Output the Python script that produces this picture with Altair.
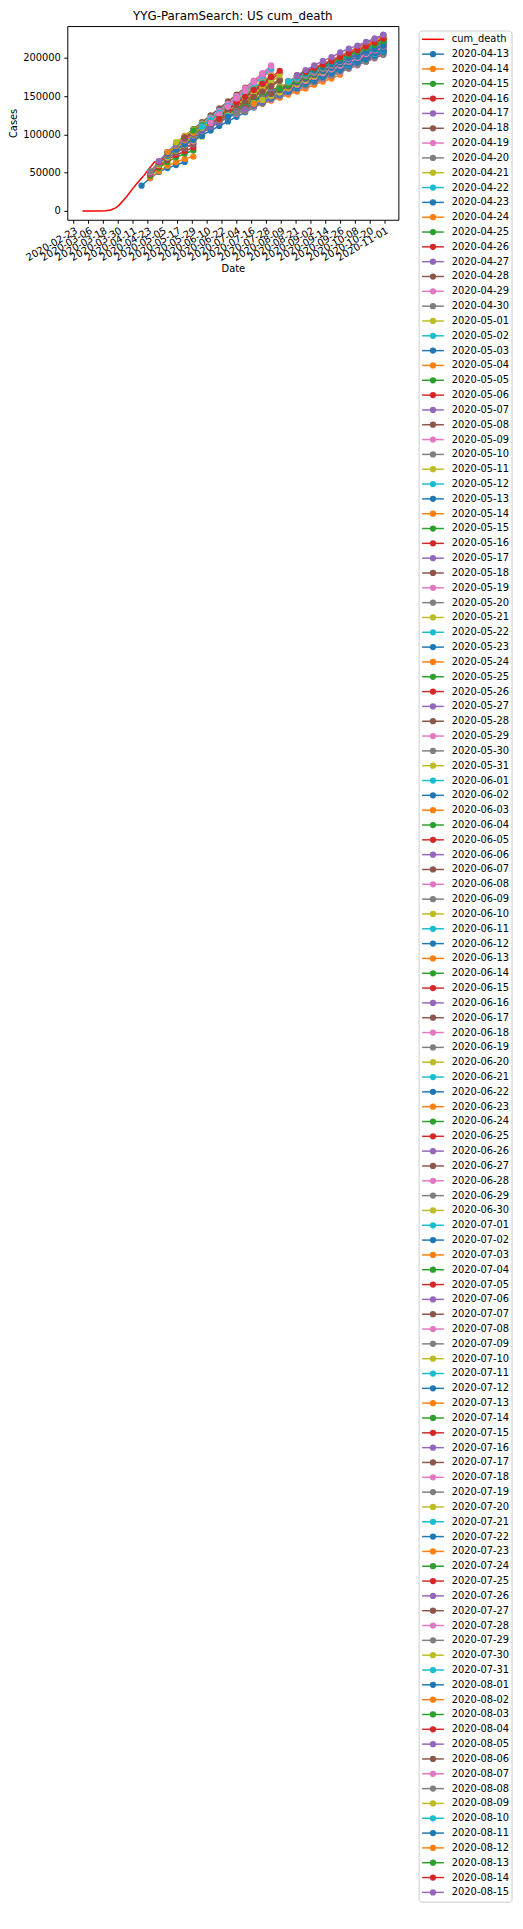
import altair as alt
import pandas as pd

title_text = "YYG-ParamSearch: US cum_death"
x_title = "Date"
y_title = "Cases"

x_tick_labels = ["2020-02-23", "2020-03-06", "2020-03-18", "2020-03-30", "2020-04-11",
                 "2020-04-23", "2020-05-05", "2020-05-17", "2020-05-29", "2020-06-10",
                 "2020-06-22", "2020-07-04", "2020-07-16", "2020-07-28", "2020-08-09",
                 "2020-08-21", "2020-09-02", "2020-09-14", "2020-09-26", "2020-10-08",
                 "2020-10-20", "2020-11-01"]
y_tick_values = [0, 50000, 100000, 150000, 200000]

# observed cumulative deaths (red line)
actual_dates = ["2020-03-01", "2020-03-05", "2020-03-10", "2020-03-15", "2020-03-20",
                "2020-03-24", "2020-03-28", "2020-03-31", "2020-04-03", "2020-04-06",
                "2020-04-10", "2020-04-13", "2020-04-17", "2020-04-20", "2020-04-23",
                "2020-04-26", "2020-04-29"]
actual_values = [0, 0, 10, 50, 300, 1300, 3900, 8000, 13300, 19000, 27600, 33500,
                 41000, 46500, 53000, 59000, 65000]

# forecast runs (legend labels)
forecast_labels = [
    "2020-04-13", "2020-04-14", "2020-04-15", "2020-04-16", "2020-04-17", "2020-04-18",
    "2020-04-19", "2020-04-20", "2020-04-21", "2020-04-22", "2020-04-23", "2020-04-24",
    "2020-04-25", "2020-04-26", "2020-04-27", "2020-04-28", "2020-04-29", "2020-04-30",
    "2020-05-01", "2020-05-02", "2020-05-03", "2020-05-04", "2020-05-05", "2020-05-06",
    "2020-05-07", "2020-05-08", "2020-05-09", "2020-05-10", "2020-05-11", "2020-05-12",
    "2020-05-13", "2020-05-14", "2020-05-15", "2020-05-16", "2020-05-17", "2020-05-18",
    "2020-05-19", "2020-05-20", "2020-05-21", "2020-05-22", "2020-05-23", "2020-05-24",
    "2020-05-25", "2020-05-26", "2020-05-27", "2020-05-28", "2020-05-29", "2020-05-30",
    "2020-05-31", "2020-06-01", "2020-06-02", "2020-06-03", "2020-06-04", "2020-06-05",
    "2020-06-06", "2020-06-07", "2020-06-08", "2020-06-09", "2020-06-10", "2020-06-11",
    "2020-06-12", "2020-06-13", "2020-06-14", "2020-06-15", "2020-06-16", "2020-06-17",
    "2020-06-18", "2020-06-19", "2020-06-20", "2020-06-21", "2020-06-22", "2020-06-23",
    "2020-06-24", "2020-06-25", "2020-06-26", "2020-06-27", "2020-06-28", "2020-06-29",
    "2020-06-30", "2020-07-01", "2020-07-02", "2020-07-03", "2020-07-04", "2020-07-05",
    "2020-07-06", "2020-07-07", "2020-07-08", "2020-07-09", "2020-07-10", "2020-07-11",
    "2020-07-12", "2020-07-13", "2020-07-14", "2020-07-15", "2020-07-16", "2020-07-17",
    "2020-07-18", "2020-07-19", "2020-07-20", "2020-07-21", "2020-07-22", "2020-07-23",
    "2020-07-24", "2020-07-25", "2020-07-26", "2020-07-27", "2020-07-28", "2020-07-29",
    "2020-07-30", "2020-07-31", "2020-08-01", "2020-08-02", "2020-08-03", "2020-08-04",
    "2020-08-05", "2020-08-06", "2020-08-07", "2020-08-08", "2020-08-09", "2020-08-10",
    "2020-08-11", "2020-08-12", "2020-08-13", "2020-08-14", "2020-08-15",
]

# first projected (weekly, Saturday) date of each run
forecast_first = (["2020-04-18"] + ["2020-04-25"] * 7 + ["2020-05-02"] * 7 + ["2020-05-09"] * 7
                  + ["2020-05-16"] * 7 + ["2020-05-23"] * 7 + ["2020-05-30"] * 7
                  + ["2020-06-06"] * 7 + ["2020-06-13"] * 7 + ["2020-06-20"] * 7
                  + ["2020-06-27"] * 7 + ["2020-07-04"] * 7 + ["2020-07-11"] * 7
                  + ["2020-07-18"] * 7 + ["2020-07-25"] * 7 + ["2020-08-01"] * 7
                  + ["2020-08-08"] * 7 + ["2020-08-15"] * 7 + ["2020-08-22"] * 5)

# weekly projected cumulative deaths, thousands
forecast_values_k = [
    [33, 43, 51, 56, 60, 64],
    [43, 52, 59, 64, 68, 71],
    [46, 56, 64, 70, 75, 79],
    [48, 58, 67, 73, 78, 83],
    [49, 60, 69, 76, 82, 87],
    [50, 61, 70, 77, 83, 88],
    [51, 62, 72, 80, 86, 91],
    [52, 64, 74, 82, 89, 95],
    [60, 70, 79, 86, 92, 97],
    [62, 73, 82, 90, 96, 101],
    [62, 72, 80, 87, 93, 98],
    [63, 74, 84, 92, 99, 104],
    [64, 76, 86, 95, 102, 108],
    [64, 75, 85, 93, 100, 106],
    [65, 77, 88, 97, 105, 112],
    [74, 81, 88, 95, 102, 109, 116, 123, 130, 137, 144, 151, 158],
    [75, 84, 93, 102, 111, 120, 129, 138, 147, 156, 165, 174, 183],
    [73, 81, 89, 97, 105, 113, 121, 129, 137, 145, 153, 161, 169],
    [76, 83, 90, 97, 104, 111, 118, 125, 132, 139, 146, 153, 160],
    [77, 86, 95, 104, 113, 122, 131, 140, 149, 158, 167, 176, 185],
    [75, 81, 87, 93, 99, 105, 111, 117, 123, 129, 135, 141, 147],
    [77, 85, 93, 101, 109, 117, 125, 133, 141, 149, 157, 165, 173],
    [87, 94, 101, 108, 115, 122, 129, 136, 143, 150, 157, 164],
    [88, 96, 104, 112, 120, 128, 136, 144, 152, 160, 168, 176],
    [86, 92, 98, 104, 110, 116, 122, 128, 134, 140, 146, 152],
    [89, 98, 107, 116, 125, 134, 143, 152, 161, 170, 179, 188],
    [88, 95, 103, 110, 118, 125, 133, 140, 148, 155, 163, 170],
    [87, 93, 100, 106, 113, 119, 126, 132, 139, 145, 152, 158],
    [90, 98, 106, 114, 122, 130, 138, 146, 154, 162, 170, 178],
    [95, 104, 113, 122, 131, 140, 149, 158, 167, 176, 185],
    [94, 100, 106, 112, 118, 124, 130, 136, 142, 148, 154],
    [93, 100, 107, 114, 121, 128, 135, 142, 149, 156, 163],
    [95, 103, 111, 119, 127, 135, 143, 151, 159, 167, 175],
    [96, 103, 110, 117, 124, 131, 138, 145, 152, 159, 166],
    [94, 102, 110, 118, 126, 134, 142, 150, 158, 166, 174],
    [95, 102, 109, 116, 123, 130, 137, 144, 151, 158, 165],
    [103, 112, 121, 130, 139, 148, 157, 166, 175, 184],
    [102, 108, 114, 120, 126, 132, 138, 144, 150, 156],
    [104, 111, 118, 125, 132, 139, 146, 153, 160, 167],
    [103, 111, 119, 127, 135, 143, 151, 159, 167, 175],
    [101, 107, 113, 119, 125, 131, 137, 143, 149, 155],
    [102, 109, 116, 123, 130, 137, 144, 151, 158, 165],
    [105, 112, 119, 126, 133, 140, 147, 154, 161, 168],
    [108, 116, 124, 132, 140, 148, 156, 164, 172, 180],
    [107, 113, 119, 125, 131, 137, 143, 149, 155, 161],
    [109, 116, 123, 130, 137, 144, 151, 158, 165, 172],
    [110, 120, 130, 140, 150, 160, 170, 180, 190],
    [108, 114, 120, 126, 132, 138, 144, 150, 156, 162],
    [109, 116, 124, 131, 139, 146, 154, 161, 169, 177],
    [110, 119, 128, 137, 147, 156, 166, 176, 186],
    [113, 119, 125, 131, 137, 143, 149, 155, 161],
    [114, 121, 128, 135, 142, 149, 156, 163, 170],
    [115, 121, 127, 133, 139, 145, 151, 157, 163],
    [115, 124, 132, 141, 149, 158, 166, 175, 183],
    [113, 118, 123, 128, 133, 138, 143, 148, 153],
    [114, 121, 128, 135, 142, 149, 156, 163, 170],
    [115, 126, 136, 147, 157, 168, 178, 189],
    [120, 124, 129, 133, 138, 142, 147, 151, 156, 160, 165, 169, 174, 178, 183],
    [120, 125, 130, 135, 140, 145, 150, 155, 160, 165, 170, 175, 180, 184, 189, 194, 199, 204, 209, 214],
    [119, 124, 128, 133, 137, 142, 147, 151, 156, 160, 165, 170, 174, 179, 183, 188, 193, 197, 202, 206],
    [118, 122, 127, 131, 136, 140, 145, 149, 154, 158, 163, 167, 172, 176, 181],
    [119, 123, 127, 131, 136, 140, 144, 148, 152, 156, 160, 165, 169, 173, 178],
    [120, 125, 130, 136, 141, 146, 151, 156, 162, 167, 172, 177, 182, 188, 193, 198, 203, 208, 214, 219],
    [120, 125, 129, 134, 139, 143, 148, 153, 157, 162, 167, 171, 176, 181, 185, 190, 195, 199, 204, 209],
    [124, 128, 133, 137, 142, 146, 151, 155, 160, 164, 169, 173, 178, 182],
    [124, 129, 134, 139, 144, 149, 154, 159, 164, 169, 174, 179, 184, 189, 194, 199, 204, 209, 214],
    [123, 127, 132, 136, 141, 145, 150, 154, 159, 163, 168, 172, 177, 181, 186, 190, 195, 199, 204],
    [124, 128, 133, 137, 142, 147, 151, 156, 160, 165, 170, 174, 179, 183, 188, 193, 197, 202, 206],
    [125, 130, 135, 141, 146, 151, 156, 162, 167, 172, 177, 183, 188, 193, 198, 204, 209, 214, 219],
    [124, 129, 133, 138, 143, 147, 152, 157, 161, 166, 171, 175, 180, 185],
    [123, 128, 133, 137, 142, 147, 151, 156, 161, 165, 170, 175, 179, 184, 189, 193, 198, 203, 207],
    [129, 134, 139, 144, 149, 154, 159, 164, 169, 174, 179, 184, 189, 194, 199, 204, 209, 214],
    [130, 135, 140, 146, 151, 156, 162, 167, 172, 178, 183, 188, 194, 199, 204, 210, 215, 220],
    [129, 134, 139, 143, 148, 153, 157, 162, 167, 171, 176, 181, 185, 190, 195, 199, 204, 209],
    [130, 135, 141, 146, 151, 157, 162, 167, 173, 178, 183, 189, 194, 199, 205, 210, 215, 221],
    [129, 134, 138, 143, 148, 152, 157, 161, 166, 171, 175, 180, 184, 189, 194, 198, 203, 207],
    [128, 133, 137, 142, 146, 151, 155, 160, 164, 169, 173, 178, 182, 187, 191, 196, 200, 205],
    [128, 132, 137, 141, 146, 150, 155, 159, 164, 168, 173, 177, 182, 186, 191, 195, 200, 204],
    [134, 139, 145, 150, 155, 161, 166, 171, 177, 182, 187, 193, 198, 203, 209, 214, 219],
    [134, 139, 144, 149, 154, 159, 164, 169, 174, 179, 184, 189, 194, 199, 204, 209, 214],
    [133, 138, 142, 147, 152, 156, 161, 166, 170, 175, 180, 184, 189, 194, 198, 203, 208],
    [134, 139, 144, 149, 154, 159, 164, 168, 173, 178, 183, 188, 193, 198, 203, 207, 212],
    [135, 141, 146, 152, 157, 163, 168, 174, 179, 185, 190, 196, 201, 207, 212, 218, 223],
    [134, 139, 145, 150, 156, 161, 167, 172, 177, 183, 188, 194, 199, 204, 210, 215, 221],
    [133, 138, 143, 148, 153, 158, 163, 168, 173, 178, 183, 188, 193, 198, 203, 208, 213],
    [140, 145, 151, 156, 162, 167, 173, 178, 184, 189, 195, 200, 206, 211, 217, 222],
    [139, 144, 149, 154, 159, 164, 169, 174, 179, 184, 189, 194, 199, 204, 209, 214],
    [140, 145, 150, 155, 160, 165, 170, 175, 180, 185, 190, 195, 200, 205, 210, 215],
    [141, 146, 152, 157, 163, 168, 174, 179, 185, 190, 196, 201, 207, 212, 218, 223],
    [140, 145, 149, 154, 159, 163, 168, 173, 177, 182, 187, 191, 196, 201, 205, 210],
    [139, 144, 149, 154, 158, 163, 168, 173, 177, 182, 187, 192, 196, 201, 206, 211],
    [140, 145, 150, 155, 160, 165, 170, 175, 180, 185, 190, 195, 200, 205, 210, 215],
    [146, 151, 157, 162, 168, 173, 179, 184, 190, 195, 201, 206, 212, 217, 223],
    [146, 152, 157, 163, 168, 174, 179, 185, 190, 196, 201, 207, 212, 218, 223],
    [147, 153, 158, 164, 170, 175, 181, 187, 192, 198, 204, 209, 215, 221, 226],
    [146, 151, 156, 161, 166, 171, 176, 181, 186, 191, 196, 201, 206, 211, 216],
    [145, 150, 155, 160, 165, 170, 175, 180, 185, 190, 195, 200, 205, 210, 215],
    [146, 151, 156, 161, 167, 172, 177, 182, 187, 193, 198, 203, 208, 213, 219],
    [145, 150, 155, 161, 166, 171, 176, 182, 187, 192, 197, 203, 208, 213, 218],
    [154, 159, 165, 170, 176, 181, 187, 192, 198, 203, 209, 214, 220, 225],
    [153, 158, 163, 168, 173, 178, 183, 187, 192, 197, 202, 207, 212, 217],
    [154, 159, 164, 169, 174, 179, 184, 189, 194, 199, 204, 209, 214, 219],
    [155, 161, 166, 172, 177, 183, 188, 194, 199, 205, 210, 216, 221, 227],
    [154, 159, 164, 170, 175, 180, 186, 191, 196, 202, 207, 212, 218, 223],
    [155, 161, 167, 172, 178, 184, 190, 195, 201, 207, 213, 218, 224, 230],
    [153, 158, 163, 168, 173, 178, 183, 188, 193, 198, 203, 208, 213, 218],
    [161, 166, 171, 176, 181, 186, 191, 196, 201, 206, 211, 216, 221],
    [161, 166, 172, 177, 182, 187, 193, 198, 203, 208, 214, 219, 224],
    [162, 167, 173, 178, 184, 189, 195, 200, 206, 211, 217, 222, 228],
    [161, 166, 171, 176, 181, 186, 191, 196, 201, 206, 211, 216, 221],
    [160, 165, 169, 174, 179, 183, 188, 193, 197, 202, 207, 211, 216],
    [161, 166, 171, 177, 182, 187, 192, 198, 203, 208, 213, 219, 224],
    [160, 165, 170, 175, 180, 185, 190, 195, 200, 205, 210, 215, 220],
    [169, 174, 179, 184, 189, 194, 199, 204, 209, 214, 219, 224],
    [170, 175, 181, 186, 192, 197, 203, 208, 214, 219, 225, 230],
    [169, 174, 179, 184, 189, 194, 199, 203, 208, 213, 218, 223],
    [168, 172, 177, 181, 186, 190, 195, 199, 204, 208, 213, 217],
    [169, 173, 178, 182, 187, 191, 196, 200, 205, 209, 214, 218],
    [169, 174, 179, 184, 189, 194, 199, 204, 209, 214, 219, 224],
    [169, 174, 179, 184, 189, 193, 198, 203, 208, 212, 217, 222],
    [176, 180, 184, 188, 192, 196, 200, 204, 208, 212, 216],
    [177, 182, 187, 192, 197, 202, 207, 212, 217, 222, 227],
    [177, 181, 186, 190, 195, 199, 204, 208, 213, 217, 222],
    [177, 182, 187, 191, 196, 201, 206, 210, 215, 220, 225],
    [177, 184, 190, 196, 201, 207, 212, 216, 221, 225, 230],
]

observed_label = "cum_death"
observed_color = "#ff0000"
tab10 = ["#1f77b4", "#ff7f0e", "#2ca02c", "#d62728", "#9467bd",
         "#8c564b", "#e377c2", "#7f7f7f", "#bcbd22", "#17becf"]

# ---------------- tables ----------------
df_obs = pd.DataFrame({"date": actual_dates, "value": actual_values, "series": observed_label})

rows = []
for k, (lab, first, vals) in enumerate(zip(forecast_labels, forecast_first, forecast_values_k)):
    start = pd.Timestamp(first)
    for i, v in enumerate(vals):
        rows.append({"series": lab, "k": k,
                     "date": (start + pd.Timedelta(days=7 * i)).strftime("%Y-%m-%d"),
                     "value": v * 1000})
df_fc = pd.DataFrame(rows)

legend_labels = [observed_label] + forecast_labels
df_leg = pd.DataFrame({"label": legend_labels, "row": list(range(len(legend_labels))),
                       "marker": [False] + [True] * len(forecast_labels)})

color_domain = legend_labels
color_range = [observed_color] + [tab10[i % 10] for i in range(len(forecast_labels))]
color_scale = alt.Scale(domain=color_domain, range=color_range)


def utc_ms(s):
    return int(pd.Timestamp(s, tz="UTC").value // 10**6)


all_dates = pd.to_datetime(pd.concat([df_obs["date"], df_fc["date"]]), utc=True)
dmin, dmax = all_dates.min(), all_dates.max()
span = dmax - dmin
x_domain = [int((dmin - span * 0.05).value // 10**6), int((dmax + span * 0.05).value // 10**6)]
ymax = max(df_fc["value"].max(), max(actual_values))
y_domain = [-0.05 * ymax, 1.05 * ymax]

FONT = "DejaVu Sans"
W, H = 335, 196

x_enc = alt.X("date:T",
              scale=alt.Scale(type="utc", domain=x_domain, nice=False),
              axis=alt.Axis(values=[utc_ms(s) for s in x_tick_labels],
                            labelExpr="utcFormat(datum.value, '%Y-%m-%d')",
                            labelAngle=-30, labelAlign="right", labelBaseline="top",
                            labelOverlap=False, labelFlush=False, labelBound=False,
                            tickSize=3.5, labelPadding=2, title=x_title, titlePadding=1,
                            grid=False, domain=False))
y_enc = alt.Y("value:Q",
              scale=alt.Scale(domain=y_domain, nice=False, zero=False),
              axis=alt.Axis(values=y_tick_values, format="d", tickSize=3.5, labelPadding=3.5,
                            title=y_title, titlePadding=4, grid=False, domain=False,
                            labelOverlap=False, labelFlush=False))
col = alt.Color("series:N", scale=color_scale, legend=None)

obs_line = alt.Chart(df_obs).mark_line(strokeWidth=1.5).encode(x=x_enc, y=y_enc, color=col)
fc_lines = alt.Chart(df_fc).mark_line(strokeWidth=1.5).encode(
    x=x_enc, y=y_enc, color=col, detail="series:N")
fc_points = alt.Chart(df_fc).mark_circle(size=40, opacity=1).encode(
    x=x_enc, y=y_enc, color=col)

main = alt.layer(obs_line, fc_lines, fc_points)

# ---------------- legend (drawn to the right of the axes) ----------------
ROW0, STEP = 13.4, 15.0
n_rows = len(legend_labels)
leg_y = alt.Y("row:Q", scale=alt.Scale(domain=[0, n_rows - 1],
                                       range=[ROW0, ROW0 + STEP * (n_rows - 1)]),
              axis=None)
leg_col = alt.Color("label:N", scale=color_scale, legend=None)

frame = alt.Chart(pd.DataFrame({"a": [0]})).mark_rect(
    fill="white", stroke="#cccccc", strokeWidth=1, cornerRadius=3).encode(
    x=alt.value(356), x2=alt.value(450), y=alt.value(5),
    y2=alt.value(ROW0 + STEP * (n_rows - 1) + 10))
handles = alt.Chart(df_leg).mark_rule(strokeWidth=1.5).encode(
    x=alt.value(359), x2=alt.value(381), y=leg_y, color=leg_col)
markers = alt.Chart(df_leg).transform_filter("datum.marker").mark_circle(
    size=40, opacity=1).encode(x=alt.value(370), y=leg_y, color=leg_col)
texts = alt.Chart(df_leg).mark_text(align="left", baseline="middle", fontSize=10,
                                    font=FONT, color="black").encode(
    x=alt.value(389), y=leg_y, text="label:N")

legend = alt.layer(frame, handles, markers, texts)

chart = alt.layer(main, legend).resolve_scale(y="independent").properties(
    width=W, height=H,
    title=alt.TitleParams(title_text, fontSize=12, font=FONT, fontWeight="normal",
                          color="black", anchor="middle", frame="group", offset=3),
    padding={"left": 0, "top": -9, "right": 2, "bottom": 0},
).configure_view(stroke="black", strokeWidth=1).configure_axis(
    labelFont=FONT, titleFont=FONT, labelFontSize=10, titleFontSize=10,
    labelColor="black", titleColor="black", tickColor="black", tickWidth=1,
    titleFontWeight="normal")

chart.save("out.html", embed_options={"renderer": "svg", "actions": False})
